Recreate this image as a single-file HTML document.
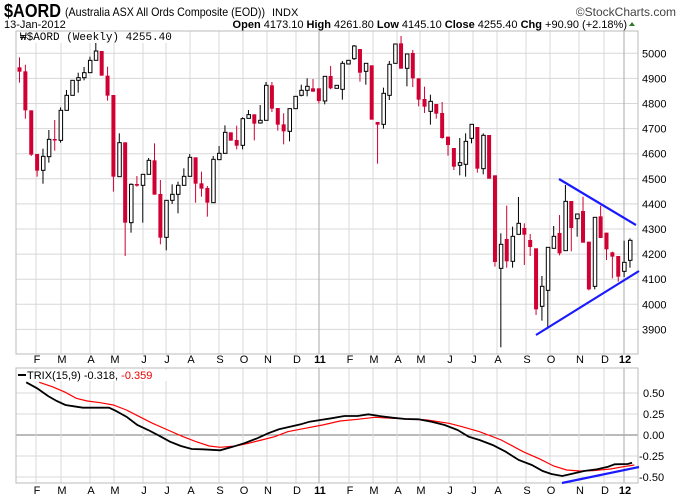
<!DOCTYPE html>
<html><head><meta charset="utf-8"><style>
body{margin:0;background:#fff;}
svg{display:block;font-family:"Liberation Sans",sans-serif;}
</style></head><body>
<svg id="s" width="680" height="500" xmlns="http://www.w3.org/2000/svg">
<rect width="680" height="500" fill="#fff"/>
<g id="grid"></g>
<g id="cand"></g>
<text x="4" y="17" font-size="18" font-weight="bold" textLength="57" lengthAdjust="spacingAndGlyphs">$AORD</text>
<text x="65" y="16" font-size="12" textLength="200" lengthAdjust="spacingAndGlyphs">(Australia ASX All Ords Composite (EOD))</text>
<text x="272" y="16" font-size="11">INDX</text>
<text x="676" y="16" font-size="12" fill="#444" text-anchor="end">©StockCharts.com</text>
<text x="4" y="28" font-size="11">13-Jan-2012</text>
<text x="627" y="28" font-size="11" text-anchor="end"><tspan font-weight="bold">Open</tspan> 4173.10 <tspan font-weight="bold">High</tspan> 4261.80 <tspan font-weight="bold">Low</tspan> 4145.10 <tspan font-weight="bold">Close</tspan> 4255.40 <tspan font-weight="bold">Chg</tspan> +90.90 (+2.18%)</text>
<polygon points="629,26 635,26 632,22" fill="#2a7a2a"/>
<rect x="19" y="32" width="160" height="11" fill="#fff"/>
<text x="20" y="40" font-size="11" font-family="Liberation Mono,monospace">₩$AORD (Weekly) 4255.40</text>
<rect x="19" y="370" width="170" height="11" fill="#fff"/>
<rect x="18" y="374" width="8" height="2" fill="#000"/>
<text x="27" y="379" font-size="11">TRIX(15,9) -0.318, <tspan fill="#e00">-0.359</tspan></text>
</svg>
<script>
const NS="http://www.w3.org/2000/svg";
function el(p,t,a){const e=document.createElementNS(NS,t);for(const k in a)e.setAttribute(k,a[k]);p.appendChild(e);return e;}
const g=document.getElementById('grid'),c=document.getElementById('cand');
const L=16,R=638,T1=31,B1=354,T2=368,B2=483;
for(let p=3800;p<=5100;p+=100){const y=53.3+(5000-p)*0.251;if(y<T1||y>B1)continue;
 el(g,'line',{x1:L,x2:R,y1:y,y2:y,stroke:'#d8d8d8'});
 if(p>=3900&&p<=5000){const t=el(g,'text',{x:642,y:y+4,'font-size':11});t.textContent=p;}}
[[0.5,'0.50'],[0.25,'0.25'],[0,'0.00'],[-0.25,'-0.25'],[-0.5,'-0.50']].forEach(([v,s])=>{const y=435-v*84;
 el(g,'line',{x1:L,x2:R,y1:y,y2:y,stroke:v==0?'#777':'#d8d8d8'});const t=el(g,'text',{x:s[0]=='-'?639:643,y:y+4,'font-size':11});t.textContent=s;});
const mons=[['F',37],['M',62],['A',91],['M',115],['J',144],['J',167],['A',191],['S',220],['O',244],['N',268],['D',297],['11',320],['F',350],['M',374],['A',398],['M',421],['J',450],['J',474],['A',498],['S',527],['O',551],['N',580],['D',605],['12',625]];
mons.forEach(([m,x])=>{const yr=m.length>1;const lx=x-1;
 el(g,'line',{x1:lx,x2:lx,y1:T1,y2:B1,stroke:yr?'#aaa':'#d8d8d8'});
 el(g,'line',{x1:lx,x2:lx,y1:T2,y2:B2,stroke:yr?'#aaa':'#d8d8d8'});
 [363,494].forEach(y=>{const t=el(g,'text',{x:x,y:y,'font-size':11,'text-anchor':'middle','font-weight':yr?'bold':'normal'});t.textContent=m;});});
el(g,'rect',{x:L,y:T1,width:R-L,height:B1-T1,fill:'none',stroke:'#bbb'});
el(g,'rect',{x:L,y:T2,width:R-L,height:B2-T2,fill:'none',stroke:'#bbb'});
const d=[
['r',112,125,82,158],['r',124,241,104,266],['r',241,374,241,378],['r',372,422,372,440],['w',379,421,356,461],['w',328,380,300,398],['r',327,331,270,362],['w',241,331,232,338],['w',196,241,180,241],['w',151,196,151,196],
['w',143,151,128,188],['w',128,143,111,151],['w',91,128,80,128],['w',63,91,36,91],['r',63,137,63,137],['r',137,197,110,212],['r',195,440,195,485],['w',338,440,310,440],['r',337,578,337,678],['w',463,578,460,608],
['r',462,467,438,470],['w',433,466,433,578],['w',391,433,384,433],['r',391,494,340,494],['r',492,623,450,643],['w',511,622,511,661],['w',493,511,463,522],['w',466,493,455,550],['w',439,466,415,466],['w',382,439,372,439],
['r',382,461,382,518],['r',460,476,425,500],['r',474,518,468,560],['w',388,518,378,518],['w',370,389,348,390],['w',307,370,286,370],['r',307,332,307,332],['r',330,347,287,358],['w',266,346,262,358],['w',254,265,240,265],
['r',253,281,253,331],['w',271,279,225,281],['w',166,271,156,271],['r',166,236,156,246],['r',234,284,234,302],['r',283,304,250,343],['w',236,304,236,334],['w',199,236,199,236],['w',181,196,164,199],['w',169,181,145,199],
['r',175,185,147,185],['r',175,213,175,220],['w',139,213,139,223],['r',138,175,108,178],['w',166,175,166,175],['w',100,178,93,209],['w',91,102,91,102],['w',48,86,45,90],['r',57,128,57,155],['w',100,124,100,164],
['r',106,269,106,269],['r',276,284,276,401],['w',190,283,173,296],['w',103,196,93,210],['w',42,100,42,100],['r',40,116,18,116],['w',72,115,72,169],['r',69,145,60,171],['r',145,209,145,229],['r',207,230,170,249],
['w',214,244,194,284],['r',222,251,222,266],['r',249,324,216,326],['r',320,345,320,377],['r',354,410,354,420],['w',398,406,324,436],['w',334,403,310,440],['w',283,325,283,340],['r',291,416,291,428],['w',316,416,310,433],
['r',315,446,315,446],['r',436,696,436,710],['w',643,715,610,952],['r',627,694,527,713],['w',619,694,590,713],['w',580,613,501,613],['r',594,614,580,705],['r',630,651,612,678],['r',655,838,655,855],['w',769,829,738,872],
['w',652,781,652,893],['w',619,655,588,655],['r',609,670,555,676],['w',514,662,465,662],['r',513,594,513,664],['w',552,566,552,620],['r',543,638,500,638],['r',635,778,635,781],['w',562,769,562,778],['r',559,624,527,624],
['r',608,658,608,690],['r',667,680,665,745],['r',678,740,678,755],['w',697,724,632,741],['w',631,691,625,713]];
const RED='#d10033';
d.forEach((k,i)=>{const x=19.5+i*5.87;const Y=z=>30+z/3;const col=k[0]=='r'?RED:'#000';
 el(c,'line',{x1:x,x2:x,y1:Y(k[3]),y2:Y(k[4]),stroke:col,'stroke-width':1});
 const h=Math.max(Y(k[2])-Y(k[1]),1.5);
 if(k[0]=='r')el(c,'rect',{x:x-2,y:Y(k[1]),width:4,height:h,fill:RED});
 else el(c,'rect',{x:x-1.5,y:Y(k[1]),width:3.5,height:h,fill:'#fff',stroke:'#000','stroke-width':1});});
el(c,'line',{x1:559,y1:179,x2:636,y2:225,stroke:'#1a1aff','stroke-width':2.2});
el(c,'line',{x1:536,y1:335,x2:639,y2:271,stroke:'#1a1aff','stroke-width':2.2});
function pl(pts,col,w){el(c,'polyline',{points:pts.map(p=>(p[0]/2.294).toFixed(1)+','+(340+p[1]/3).toFixed(1)).join(' '),fill:'none',stroke:col,'stroke-width':w});}
pl([[90,127],[120,140],[150,157],[175,175],[200,183],[230,188],[260,195],[290,210],[320,230],[350,250],[385,270],[420,290],[450,305],[480,318],[505,322],[540,318],[570,310],[600,300],[630,290],[660,275],[700,265],[740,255],[780,243],[820,238],[860,232],[900,235],[940,237],[980,240],[1030,250],[1060,260],[1100,275],[1150,300],[1200,335],[1240,358],[1270,378],[1300,390],[1330,393],[1360,392],[1400,387],[1430,380],[1455,375]],'#f00',1.2);
pl([[60,127],[85,145],[110,168],[130,183],[150,195],[175,200],[190,203],[250,203],[265,212],[290,230],[315,255],[340,270],[365,287],[390,305],[415,318],[440,327],[465,328],[505,331],[530,322],[560,310],[590,295],[615,280],[640,268],[665,260],[690,253],[710,245],[735,240],[760,235],[790,228],[820,228],[845,223],[870,228],[900,233],[930,237],[960,238],[990,245],[1020,255],[1050,270],[1075,290],[1100,300],[1130,315],[1160,335],[1190,360],[1220,375],[1245,393],[1265,402],[1290,408],[1310,402],[1340,393],[1370,388],[1395,380],[1410,373],[1440,372],[1450,368]],'#000',1.8);
el(c,'line',{x1:562,y1:483,x2:639,y2:467,stroke:'#1a1aff','stroke-width':2.2});
</script>
</body></html>
